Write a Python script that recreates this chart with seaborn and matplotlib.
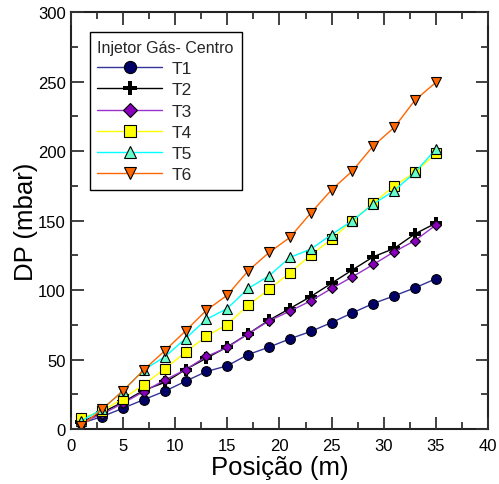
import matplotlib
matplotlib.use("Agg")
import matplotlib.pyplot as plt
import seaborn as sns
import pandas as pd
from matplotlib.ticker import MultipleLocator

posicao = [1, 3, 5, 7, 9, 11, 13, 15, 17, 19, 21, 23, 25, 27, 29, 31, 33, 35]
T1 = [4.3, 9.1, 15.1, 21.3, 27.3, 34.5, 41.5, 45.6, 53.7, 59.0, 65.0, 70.3, 76.7, 83.7, 90.4, 95.9, 101.7, 108.2]
T2 = [5.0, 12.0, 19.5, 28.0, 33.6, 42.9, 51.1, 59.2, 68.6, 78.4, 86.8, 95.4, 105.0, 114.6, 124.0, 130.0, 140.5, 148.2]
T3 = [4.8, 10.8, 18.7, 27.1, 35.3, 42.9, 52.3, 58.8, 68.6, 77.9, 84.9, 92.3, 101.2, 109.6, 118.5, 127.6, 135.7, 146.8]
T4 = [7.9, 13.2, 22.0, 32.1, 43.4, 55.4, 66.9, 75.3, 89.2, 100.5, 112.5, 125.2, 136.7, 149.9, 162.6, 175.0, 184.7, 198.3]
T5 = [6.0, 14.4, 27.6, 42.7, 52.0, 65.2, 79.1, 86.8, 101.2, 110.3, 123.5, 129.5, 140.0, 150.0, 162.0, 171.5, 184.7, 201.4]
T6 = [2.4, 14.4, 27.6, 42.7, 56.4, 70.7, 85.6, 96.4, 113.9, 127.1, 137.9, 155.4, 172.2, 185.8, 203.8, 217.0, 236.7, 249.4]

series_names = ["T1", "T2", "T3", "T4", "T5", "T6"]
series_values = [T1, T2, T3, T4, T5, T6]
x_ticks = [0, 5, 10, 15, 20, 25, 30, 35, 40]
y_ticks = [0, 50, 100, 150, 200, 250, 300]

styles = {
    "T1": dict(line="#333399", face="#000066", marker="o", ms=7.0),
    "T2": dict(line="#000000", face="#000000", marker="P", ms=8),
    "T3": dict(line="#9933CC", face="#8800BB", marker="D", ms=5.5),
    "T4": dict(line="#FFFF00", face="#FFFF00", marker="s", ms=6.5),
    "T5": dict(line="#00FFFF", face="#66FFCC", marker="^", ms=7),
    "T6": dict(line="#FF6600", face="#FF6600", marker="v", ms=7),
}

sns.set_style("ticks", {"xtick.direction": "in", "ytick.direction": "in"})
plt.rcParams.update({
    'font.family': ['Liberation Sans', 'DejaVu Sans'],
    'xtick.top': True, 'xtick.bottom': True, 'ytick.left': True, 'ytick.right': True,
    'xtick.major.size': 9, 'ytick.major.size': 9,
    'xtick.minor.size': 5, 'ytick.minor.size': 5,
    'xtick.major.width': 1.3, 'ytick.major.width': 1.3,
    'xtick.minor.width': 1.3, 'ytick.minor.width': 1.3,
    'xtick.color': '#333333', 'ytick.color': '#333333',
    'xtick.labelsize': 12, 'ytick.labelsize': 12,
    'axes.linewidth': 1.5, 'axes.edgecolor': '#222222',
})

fig = plt.figure(figsize=(4.99, 4.85), dpi=100)
ax = fig.add_axes([0.142, 0.113, 0.836, 0.86])

for name, vals in zip(series_names, series_values):
    st = styles[name]
    df = pd.DataFrame({"x": posicao, "y": vals})
    sns.lineplot(data=df, x="x", y="y", ax=ax, color=st["line"], lw=1.0,
                 marker=st["marker"], markersize=st["ms"],
                 markerfacecolor=st["face"], markeredgecolor="black",
                 markeredgewidth=0.8 if name != "T2" else 0.0,
                 label=name, legend=False)

ax.set_xlim(0, 40)
ax.set_ylim(0, 300)
ax.set_xticks(x_ticks)
ax.set_yticks(y_ticks)
ax.xaxis.set_minor_locator(MultipleLocator(2.5))
ax.yaxis.set_minor_locator(MultipleLocator(25))

ax.set_xlabel("Posição (m)", fontsize=18.5, labelpad=2, color="black")
ax.set_ylabel("DP (mbar)", fontsize=18.5, labelpad=0, color="black")

handles, labels = ax.get_legend_handles_labels()
leg = ax.legend(handles, labels, title="Injetor Gás- Centro", loc="upper left",
                bbox_to_anchor=(0.045, 0.952), fontsize=12.5, title_fontsize=11.5,
                frameon=True, fancybox=False, edgecolor="black", framealpha=1,
                handlelength=3.7, borderpad=0.45, labelspacing=0.35, handletextpad=0.6,
                borderaxespad=0.0, markerscale=1.25)
leg.get_frame().set_linewidth(1.0)
leg._legend_box.align = "left"

ax.set_axisbelow(False)
ax.tick_params(which="both", direction="in", top=True, right=True, bottom=True, left=True,
               color="#333333", labelcolor="black", labelsize=12)
ax.tick_params(which="major", length=9, width=1.3)
ax.tick_params(which="minor", length=5, width=1.3)
ax.tick_params(axis="x", which="major", pad=6)
for axis in (ax.xaxis, ax.yaxis):
    for t in axis.get_major_ticks() + axis.get_minor_ticks():
        t.tick1line.set_visible(True)
        t.tick2line.set_visible(True)

fig.savefig("out.png", dpi=100)
